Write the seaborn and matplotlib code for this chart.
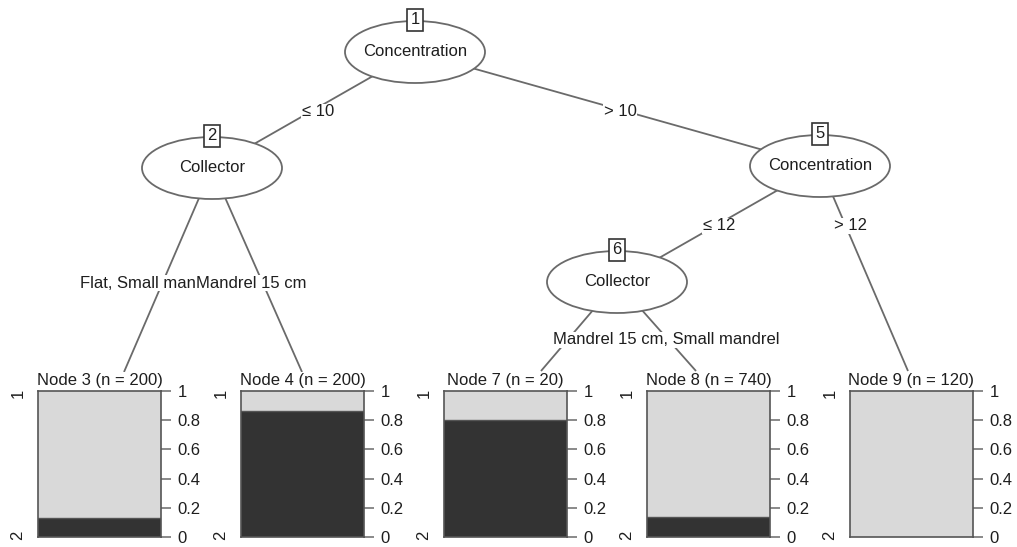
import matplotlib
matplotlib.use("Agg")
import matplotlib.pyplot as plt
from matplotlib.patches import Ellipse
import seaborn as sns

sns.set_theme(style="white")
plt.rcParams["font.family"] = ["Liberation Sans", "DejaVu Sans"]

# Inner (split) nodes of the conditional inference tree
inner_ids = [1, 2, 5, 6]
inner_vars = ["Concentration", "Collector", "Concentration", "Collector"]
inner_xy = [(415, 52), (212, 168), (820, 166), (617, 282)]

# Terminal nodes: id, size and share of class "2"
term_ids = [3, 4, 7, 8, 9]
term_n = [200, 200, 20, 740, 120]
class2_share = [0.13, 0.86, 0.80, 0.14, 0.0]
class_labels = ["1", "2"]
tick_vals = [0, 0.2, 0.4, 0.6, 0.8, 1]
tick_text = ["0", "0.2", "0.4", "0.6", "0.8", "1"]

# Edges: (parent, child, label, label anchor, horizontal alignment)
edges = [
    (1, 2, "\u2264 10", (318, 112), "center"),
    (1, 5, "> 10", (620, 112), "center"),
    (2, 3, "Flat, Small man", (196, 283), "right"),
    (2, 4, "Mandrel 15 cm", (196, 283), "left"),
    (5, 6, "\u2264 12", (719, 226), "center"),
    (5, 9, "> 12", (850, 226), "center"),
    (6, 7, "", (560, 340), "center"),
    (6, 8, "Mandrel 15 cm, Small mandrel", (666, 340), "center"),
]

W, H = 1017, 547
fig = plt.figure(figsize=(W / 100, H / 100), dpi=100)
ax0 = fig.add_axes([0, 0, 1, 1])
ax0.set_xlim(0, W)
ax0.set_ylim(H, 0)
ax0.axis("off")

line_col = "#6a6a6a"
text_col = "#1e1e1e"
light = "#d9d9d9"
dark = "#333333"
fs = 12

bar_left = [38, 241, 444, 647, 850]
bar_w, bar_top, bar_bot = 123, 391, 537
term_anchor = [(124, 372), (302, 372), (541, 371), (696, 371), (908, 371)]

pos = {i: xy for i, xy in zip(inner_ids, inner_xy)}
pos.update({i: xy for i, xy in zip(term_ids, term_anchor)})

# connecting lines and their split labels
for k, (p, c, lab, lp, ha) in enumerate(edges):
    (x0, y0), (x1, y1) = pos[p], pos[c]
    ax0.plot([x0, x1], [y0, y1], color=line_col, lw=1.3, zorder=1,
             solid_capstyle="butt")
    if lab:
        ax0.text(lp[0], lp[1], lab, ha=ha, va="center", fontsize=fs,
                 color=text_col, zorder=3 + k * 0.01,
                 bbox=dict(facecolor="white", edgecolor="none", pad=0.6))

# inner nodes: ellipse, id box and split variable
for nid, var, (x, y) in zip(inner_ids, inner_vars, inner_xy):
    ax0.add_patch(Ellipse((x, y), 140, 62, facecolor="white",
                          edgecolor=line_col, lw=1.3, zorder=2))
    ax0.text(x, y, var, ha="center", va="center", fontsize=fs,
             color=text_col, zorder=4)
    ax0.text(x, y - 32, str(nid), ha="center", va="center", fontsize=fs,
             color=text_col, zorder=5,
             bbox=dict(boxstyle="square,pad=0.2", facecolor="white",
                       edgecolor="#333333", lw=1.2))

# terminal nodes: stacked bar of class proportions
for i, (nid, n, share) in enumerate(zip(term_ids, term_n, class2_share)):
    left = bar_left[i]
    ax = fig.add_axes([left / W, (H - bar_bot) / H, bar_w / W,
                       (bar_bot - bar_top) / H])
    sns.barplot(x=[0], y=[1.0], color=light, width=1.0, ax=ax,
                edgecolor="none", saturation=1)
    sns.barplot(x=[0], y=[share], color=dark, width=1.0, ax=ax,
                edgecolor="none", saturation=1)
    ax.set_xlim(-0.5, 0.5)
    ax.set_ylim(0, 1)
    ax.set_xticks([])
    ax.set_xlabel("")
    ax.set_ylabel("")
    ax.yaxis.tick_right()
    ax.set_yticks(tick_vals)
    ax.set_yticklabels(tick_text)
    ax.tick_params(axis="y", direction="out", length=7, width=1.1,
                   color=line_col, labelsize=fs, labelcolor=text_col, pad=5,
                   right=True, left=False)
    for sp in ax.spines.values():
        sp.set_visible(True)
        sp.set_color("#555555")
        sp.set_linewidth(1.2)
    if 0 < share < 1:
        ax.axhline(share, color="#555555", lw=1.0)

    cx = left + bar_w / 2
    ax0.text(cx, bar_top - 11, f"Node {nid} (n = {n})", ha="center",
             va="center", fontsize=fs, color=text_col, zorder=6,
             bbox=dict(facecolor="white", edgecolor="none", pad=0.5))
    ax0.text(left - 20, bar_top + 2, class_labels[0], ha="center",
             va="center", rotation=90, fontsize=fs, color=text_col)
    ax0.text(left - 20, bar_bot - 2, class_labels[1], ha="center",
             va="center", rotation=90, fontsize=fs, color=text_col)

fig.savefig("out.png", dpi=100)
